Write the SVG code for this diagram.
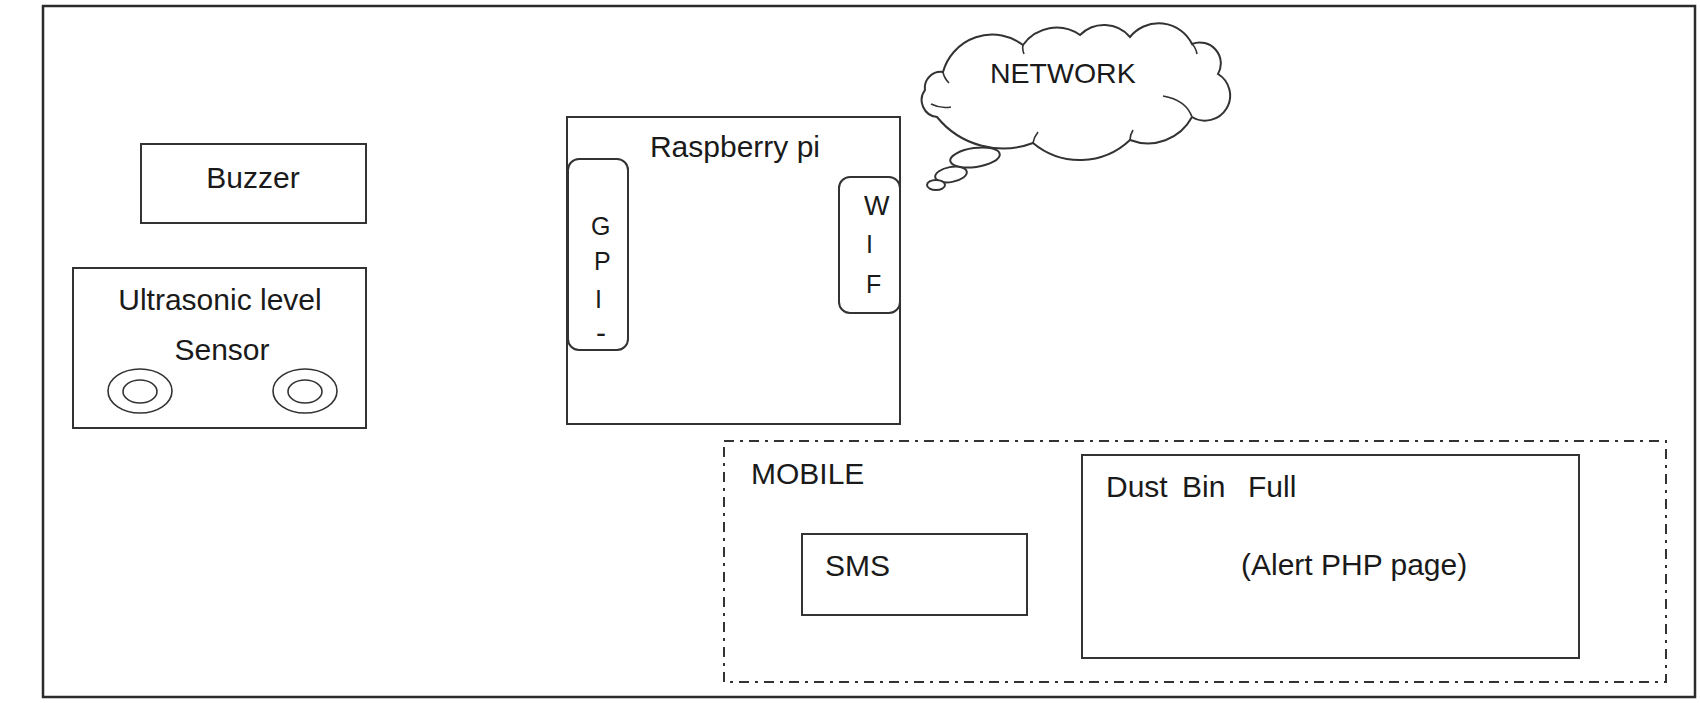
<svg xmlns="http://www.w3.org/2000/svg" width="1700" height="703" viewBox="0 0 1700 703">
<style>
  .box { fill: #ffffff; stroke: #333333; stroke-width: 2; }
  .thin { fill: none; stroke: #333333; stroke-width: 1.6; }
  .dash { fill: none; stroke: #333333; stroke-width: 2; stroke-dasharray: 10 6 3 6; }
  text { font-family: "Liberation Sans", Arial, sans-serif; fill: #1a1a1a; font-size: 30px; }
  .c { text-anchor: middle; }
  .sm { font-size: 25px; }
</style>
<rect x="0" y="0" width="1700" height="703" fill="#ffffff"/>
<g id="frame">
  <rect x="43" y="6" width="1652" height="691" fill="none" stroke="#2b2b2b" stroke-width="2.5"/>
</g>
<g id="buzzer">
  <rect class="box" x="141" y="144" width="225" height="79"/>
  <text class="c" x="253" y="188">Buzzer</text>
</g>
<g id="ultrasonic-sensor">
  <rect class="box" x="73" y="268" width="293" height="160"/>
  <text class="c" x="220" y="310">Ultrasonic level</text>
  <text class="c" x="222" y="360">Sensor</text>
  <ellipse class="thin" cx="140" cy="391" rx="32" ry="22"/>
  <ellipse class="thin" cx="140" cy="391.5" rx="17" ry="11.5"/>
  <ellipse class="thin" cx="305" cy="391" rx="32" ry="22"/>
  <ellipse class="thin" cx="305" cy="391.5" rx="17" ry="11.5"/>
</g>
<g id="raspberry-pi">
  <rect class="box" x="567" y="117" width="333" height="307"/>
  <text class="c" x="735" y="157">Raspberry pi</text>
  <g id="gpio">
    <rect class="box" x="568" y="159" width="60" height="191" rx="11"/>
    <text class="sm" x="591" y="235">G</text>
    <text class="sm" x="594" y="270">P</text>
    <text class="sm" x="595" y="308">I</text>
    <text class="sm" x="596" y="343" style="font-size:30px">-</text>
  </g>
  <g id="wifi">
    <rect class="box" x="839" y="177" width="61" height="136" rx="11"/>
    <text class="sm" x="864" y="215" style="font-size:27px">W</text>
    <text class="sm" x="866" y="253">I</text>
    <text class="sm" x="866" y="293">F</text>
  </g>
</g>
<g id="network">
  <path class="box" d="M 943,72 A 51 51 0 0 1 1023,45 A 41 41 0 0 1 1080,35 A 34 34 0 0 1 1130,37 A 37 37 0 0 1 1192,44 A 21 21 0 0 1 1218,74 A 25 25 0 0 1 1192,117 A 50 50 0 0 1 1130,140 A 73 73 0 0 1 1033,143 A 85 85 0 0 1 937,117 A 17 17 0 0 1 925,90 A 16 16 0 0 1 943,72 Z"/>
  <path class="thin" d="M 943,72 Q 944,78 949,83 M 1023,45 Q 1022,49 1024,54 M 1192,44 Q 1196,48 1197,54 M 1163,96 Q 1186,100 1192,117 M 1130,140 Q 1130,135 1133,130 M 1033,143 Q 1034,137 1038,132 M 931,104 Q 941,109 951,107"/>
  <text x="990" y="83" style="font-size:28.5px">NETWORK</text>
  <ellipse class="box" cx="975" cy="157.5" rx="25" ry="9.5" transform="rotate(-8 975 157.5)"/>
  <ellipse class="box" cx="951" cy="174.5" rx="16" ry="7.5" transform="rotate(-10 951 174.5)"/>
  <ellipse class="box" cx="936" cy="185" rx="9" ry="5"/>
</g>
<g id="mobile">
  <rect class="dash" x="724" y="441" width="942" height="241"/>
  <text x="751" y="484">MOBILE</text>
  <g id="sms">
    <rect class="box" x="802" y="534" width="225" height="81"/>
    <text x="825" y="576">SMS</text>
  </g>
  <g id="alert-page">
    <rect class="box" x="1082" y="455" width="497" height="203"/>
    <text x="1106" y="497">Dust<tspan x="1182">Bin</tspan><tspan x="1248">Full</tspan></text>
    <text x="1241" y="575">(Alert PHP page)</text>
  </g>
</g>
<g id="connectors"/>
</svg>
